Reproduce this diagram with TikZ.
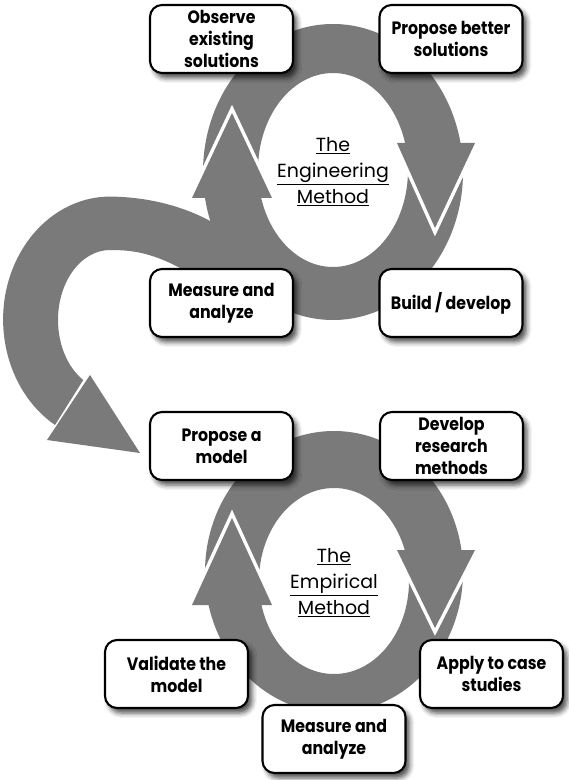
\documentclass[tikz,border=0pt]{standalone}
\usepackage{fontspec}
\setmainfont{Poppins}
\newfontfamily\boxfont[FakeStretch=0.88]{Poppins}
\usetikzlibrary{shadows.blur}
\definecolor{cyclegray}{RGB}{122,122,122}

\begin{document}
\begin{tikzpicture}[x=0.02cm, y=0.02cm,
    stage/.style={draw=black, line width=1.2pt, fill=white, rounded corners=0.24cm,
      minimum width=2.86cm, minimum height=1.36cm, inner sep=1pt, align=center,
      font=\boxfont\bfseries\fontsize{10.2}{12.4}\selectfont,
      blur shadow={shadow xshift=0.08cm, shadow yshift=-0.1cm, shadow blur radius=0.1cm, shadow opacity=70}},
    method/.style={align=center, font=\fontsize{10.8}{14.8}\selectfont},
    gap/.style={white, line width=0.14cm, line join=miter}]
    \useasboundingbox (0,0) rectangle (568,-780);

    % Engineering cycle
    \fill[cyclegray, even odd rule] (333,-172) ellipse[x radius=130, y radius=148]
        (333,-170) ellipse[x radius=75, y radius=97];

    % Arrow from one cycle to the other
    \fill[cyclegray] (55,-425) arc[start angle=239, end angle=90, x radius=107, y radius=123]
        .. controls (150,-197) and (185,-207) .. (212,-222) -- (250,-250) -- (250,-300) -- (180,-268)
        .. controls (150,-252) and (130,-250) .. (110,-250)
        arc[start angle=90, end angle=239, x radius=52, y radius=70] -- cycle;
    \fill[cyclegray] (47,-440) -- (140,-453) -- (90,-375) -- cycle;

    % Arrowheads
    \draw[gap] (192,-198) -- (232,-113) -- (272,-198);
    \fill[cyclegray] (192,-198) -- (232,-113) -- (272,-198) -- cycle;
    \draw[gap] (397,-143) -- (435,-228) -- (475,-143);
    \fill[cyclegray] (397,-143) -- (435,-228) -- (475,-143) -- cycle;

    % Empirical cycle
    \fill[cyclegray, even odd rule] (334,-572) ellipse[x radius=129, y radius=141]
        (334,-581) ellipse[x radius=75, y radius=93];
    \draw[gap] (192,-605) -- (232,-518) -- (272,-605);
    \fill[cyclegray] (192,-605) -- (232,-518) -- (272,-605) -- cycle;
    \draw[gap] (397,-550) -- (435,-628) -- (475,-550);
    \fill[cyclegray] (397,-550) -- (435,-628) -- (475,-550) -- cycle;

    % Titles
    \node[method] (engineering) at (333,-172) {\underline{The}\\\underline{Engineering}\\\underline{Method}};
    \node[method] (empirical) at (334,-583) {\underline{The}\\\underline{Empirical}\\\underline{Method}};

    % Steps
    \node[stage] (observe) at (221.5,-39) {Observe\\existing\\solutions};
    \node[stage] (propose) at (451,-39) {Propose better\\solutions};
    \node[stage] (build) at (451,-303) {Build / develop};
    \node[stage] (measure) at (221.5,-303) {Measure and\\analyze};

    \node[stage] (model) at (221.5,-446) {Propose a\\model};
    \node[stage] (develop) at (451.5,-446) {Develop\\research\\methods};
    \node[stage] (apply) at (491.5,-674) {Apply to case\\studies};
    \node[stage] (analyze) at (334,-739) {Measure and\\analyze};
    \node[stage] (validate) at (176.5,-674) {Validate the\\model};
\end{tikzpicture}
\end{document}
